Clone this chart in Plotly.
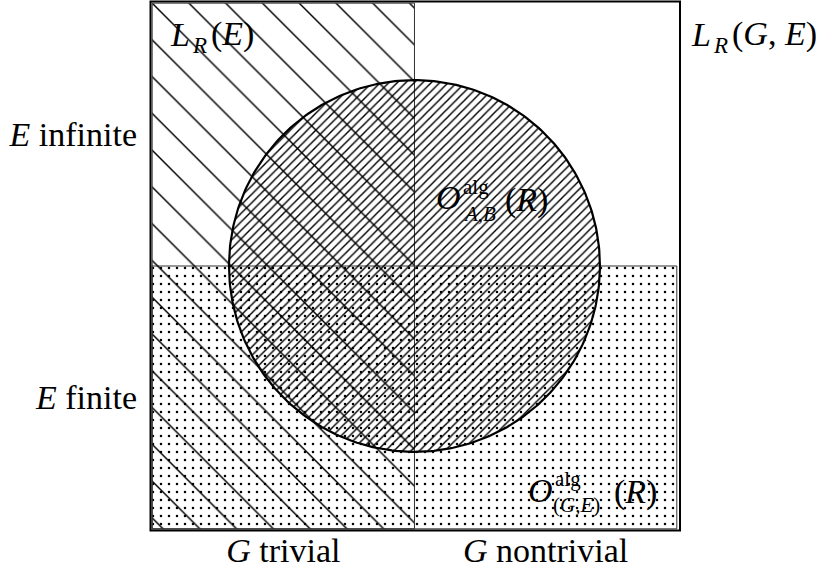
import numpy as np
import plotly.graph_objects as go

# ---- diagram content -------------------------------------------------------
col_labels = ["<i>G</i> trivial", "<i>G</i> nontrivial"]
col_pos = [0.5, 1.5]
row_labels = ["<i>E</i> finite", "<i>E</i> infinite"]
row_pos = [0.5, 1.5]

# L_R(E): G trivial column (full height)
trivial_x = [0, 1, 1, 0, 0]
trivial_y = [0, 0, 2, 2, 0]
# O_(G,E): E finite row (full width)
finite_x = [0, 2, 2, 0, 0]
finite_y = [0, 0, 1, 1, 0]
# O_{A,B}: disc centred at the crossing
disc_center = (1.0, 1.0)
disc_radius = 0.707

FONT = "Liberation Serif"
W, H = 818, 574
ML, MR, MT, MB = 149, 137, 0, 42
XR = [-0.012, 2.016]
YR = [-0.012, 2.012]

def px2x(px):
    return XR[0] + (px - ML) / (W - ML - MR) * (XR[1] - XR[0])

def px2y(py):
    return YR[1] - (py - MT) / (H - MT - MB) * (YR[1] - YR[0])

fig = go.Figure()

fig.add_trace(go.Scatter(
    x=finite_x, y=finite_y, mode="lines", fill="toself",
    fillcolor="rgba(0,0,0,0)",
    line=dict(color="#333", width=1),
    fillpattern=dict(shape=".", size=8, solidity=0.08, fgcolor="black",
                     fgopacity=1, bgcolor="rgba(0,0,0,0)", fillmode="overlay"),
    hoverinfo="skip", showlegend=False))

fig.add_trace(go.Scatter(
    x=trivial_x, y=trivial_y, mode="lines", fill="toself",
    fillcolor="rgba(0,0,0,0)",
    line=dict(color="#333", width=1),
    fillpattern=dict(shape="\\", size=26, solidity=0.055, fgcolor="black",
                     fgopacity=1, bgcolor="rgba(0,0,0,0)", fillmode="overlay"),
    hoverinfo="skip", showlegend=False))

theta = np.linspace(0, 2 * np.pi, 361)
fig.add_trace(go.Scatter(
    x=disc_center[0] + disc_radius * np.cos(theta),
    y=disc_center[1] + disc_radius * np.sin(theta),
    mode="lines", fill="toself", fillcolor="rgba(0,0,0,0)",
    line=dict(color="black", width=2.2),
    fillpattern=dict(shape="/", size=6, solidity=0.24, fgcolor="black",
                     fgopacity=1, bgcolor="rgba(0,0,0,0)", fillmode="overlay"),
    hoverinfo="skip", showlegend=False))

# outer frame
fig.add_shape(type="rect", xref="x", yref="y",
              x0=px2x(150.5), x1=px2x(680), y0=px2y(530.5), y1=px2y(1.5),
              line=dict(color="black", width=2), layer="above")

PW = W - ML - MR
PH = H - MT - MB

def piece(px, py, text, size):
    fig.add_annotation(x=(px - ML) / PW, y=1 - (py - MT) / PH,
                       xref="paper", yref="paper",
                       text=text, showarrow=False, xanchor="left",
                       yanchor="middle",
                       font=dict(family=FONT, size=size, color="black"))

# L_R(E)
piece(168, 34, "<i>L</i>", 34)
piece(190, 46, "<i>R</i>", 23)
piece(209, 34, "(<i>E</i>)", 34)
# L_R(G,E)
piece(689, 34, "<i>L</i>", 34)
piece(711, 46, "<i>R</i>", 23)
piece(730, 34, "(<i>G</i>, <i>E</i>)", 34)
# O^alg_{A,B}(R)
piece(434, 198, "<i>O</i>", 34)
piece(461, 187, "alg", 21)
piece(461, 214, "<i>A,B</i>", 21)
piece(503, 200, "(<i>R</i>)", 34)
# O^alg_{(G,E)}(R)
piece(526, 490, "<i>O</i>", 34)
piece(553, 479, "alg", 21)
piece(551, 505, "(<i>G,E</i>)", 21)
piece(612, 492, "(<i>R</i>)", 34)

fig.update_layout(
    width=W, height=H,
    margin=dict(l=ML, r=MR, t=MT, b=MB, pad=0),
    paper_bgcolor="white", plot_bgcolor="white",
    font=dict(family=FONT, size=34, color="black"),
    xaxis=dict(range=XR, showgrid=False, zeroline=False, showline=False,
               tickvals=col_pos, ticktext=col_labels, ticks="",
               tickfont=dict(family=FONT, size=34, color="black"),
               ticklabelstandoff=-5, fixedrange=True),
    yaxis=dict(range=YR, showgrid=False, zeroline=False, showline=False,
               tickvals=row_pos, ticktext=row_labels, ticks="",
               tickfont=dict(family=FONT, size=34, color="black"),
               ticklabelstandoff=11, fixedrange=True),
)

fig.write_html("out.html", config={"displayModeBar": False},
               post_script="document.body.style.margin='0px';document.body.style.overflow='hidden';")
